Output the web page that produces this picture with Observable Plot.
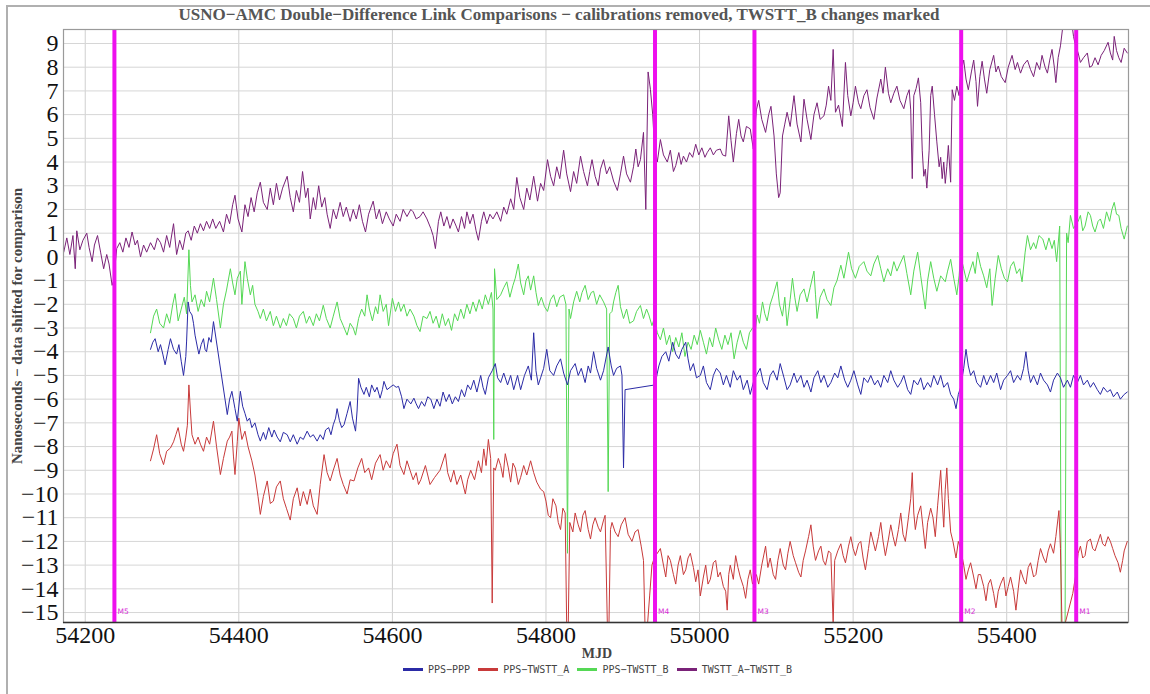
<!DOCTYPE html>
<html>
<head>
<meta charset="utf-8">
<script src="https://cdn.jsdelivr.net/npm/d3@7"></script>
<script src="https://cdn.jsdelivr.net/npm/@observablehq/plot@0.6"></script>
<style>
  html, body { margin: 0; padding: 0; background: #fff; }
  #wrap { position: relative; width: 1150px; height: 694px; overflow: hidden; }
  #outer { position: absolute; left: 6px; top: 5px; width: 1200px; height: 800px; border-left: 2px solid #b0b0b0; border-top: 2px solid #b0b0b0; }
  #title { position: absolute; left: 559px; top: 5px; transform: translateX(-50%); white-space: nowrap;
           font: bold 17px "Liberation Serif", serif; color: #555; }
  #ylab { position: absolute; left: 17px; top: 326px; transform: translate(-50%, -50%) rotate(-90deg); white-space: nowrap;
          font: bold 15px "Liberation Serif", serif; color: #444; }
  #xlab { position: absolute; left: 597px; top: 646px; transform: translateX(-50%);
          font: bold 14px "Liberation Serif", serif; color: #444; }
  #legend { position: absolute; left: 403px; top: 664px; display: flex; align-items: center; white-space: nowrap;
            font: 10px "DejaVu Sans Mono", monospace; color: #444; }
  #legend .item { display: flex; align-items: center; margin-right: 8px; }
  #legend .sw { width: 20px; height: 2.5px; margin-right: 5px; }
  #chart { position: absolute; left: 0; top: 0; }
</style>
</head>
<body>
<div id="wrap">
  <div id="outer"></div>
  <div id="chart"></div>
  <div id="title">USNO−AMC Double−Difference Link Comparisons − calibrations removed, TWSTT_B changes marked</div>
  <div id="ylab">Nanoseconds − data shifted for comparison</div>
  <div id="xlab">MJD</div>
  <div id="legend"></div>
</div>
<script>
// ---- Data (MJD, nanoseconds) ----
const seriesNames = ["PPS−PPP", "PPS−TWSTT_A", "PPS−TWSTT_B", "TWSTT_A−TWSTT_B"];
const seriesColors = ["#2b2ba6", "#c83a3a", "#55d855", "#7a2278"];

const xTicks = [54200, 54400, 54600, 54800, 55000, 55200, 55400];
const yTicks = [-15,-14,-13,-12,-11,-10,-9,-8,-7,-6,-5,-4,-3,-2,-1,0,1,2,3,4,5,6,7,8,9];

const markerMjd = [54238, 54942, 55071.5, 55340.7, 55490.5];
const markerLabels = ["M5", "M4", "M3", "M2", "M1"];

const twsttAB = [
[54172,0.2],[54176,0.8],[54180,0.1],[54184,0.9],[54187,-0.5],[54189,1.1],[54193,0.3],[54197,0.7],[54202,1.0],[54205,0.4],[54209,-0.2],[54212,0.5],[54216,0.9],[54220,0.2],[54224,-0.5],[54228,0.1],[54231,-0.3],[54235,-1.2],[54237,-1.0],
[54241,0.35],[54245,0.6],[54249,0.2],[54253,0.8],[54257,0.4],[54261,1.05],[54265,0.5],[54268,0.7],[54272,0.0],[54276,0.5],[54280,0.2],[54285,0.6],[54290,0.3],[54294,0.8],[54298,0.6],[54302,0.2],[54306,0.9],[54310,0.4],[54315,1.4],[54319,0.1],[54323,0.7],[54327,0.3],[54331,1.0],[54334,1.1],[54338,0.7],[54342,1.3],[54346,1.0],[54350,1.4],[54354,1.1],[54358,1.5],[54362,1.2],[54366,1.6],[54370,1.2],[54375,1.5],[54380,1.05],[54384,1.8],[54388,1.4],[54392,2.2],[54395,2.6],[54399,1.6],[54404,1.05],[54408,2.2],[54412,1.7],[54416,2.5],[54420,1.9],[54424,2.7],[54428,3.15],[54432,2.3],[54437,2.0],[54441,2.9],[54445,2.2],[54449,3.1],[54453,2.4],[54457,2.9],[54463,3.4],[54467,2.5],[54471,1.9],[54475,2.8],[54479,2.3],[54483,3.6],[54487,2.5],[54490,2.9],[54493,1.6],[54497,2.5],[54500,2.0],[54504,3.0],[54508,2.1],[54512,2.5],[54515,1.8],[54519,1.2],[54523,2.0],[54527,1.6],[54532,2.3],[54536,1.7],[54540,2.1],[54545,1.5],[54549,2.0],[54553,1.6],[54557,2.2],[54561,1.5],[54565,1.05],[54569,1.8],[54575,2.35],[54579,1.6],[54583,2.0],[54587,1.4],[54592,1.9],[54596,1.6],[54601,1.3],[54605,1.8],[54610,1.5],[54614,2.0],[54619,1.7],[54624,2.0],[54627,1.9],[54631,1.6],[54636,1.7],[54640,1.9],[54645,1.6],[54650,1.2],[54653,0.9],[54656,0.35],[54660,1.5],[54663,1.9],[54667,1.3],[54671,1.7],[54675,1.2],[54679,1.6],[54683,1.3],[54686,1.05],[54690,1.7],[54694,1.2],[54697,1.9],[54701,1.4],[54705,1.8],[54709,1.1],[54712,0.7],[54716,1.5],[54719,1.9],[54723,1.4],[54727,1.8],[54731,1.6],[54736,1.9],[54741,1.5],[54745,2.1],[54749,1.8],[54754,2.45],[54758,2.0],[54762,3.35],[54766,2.5],[54771,2.0],[54775,2.9],[54779,2.4],[54784,3.4],[54789,2.35],[54793,3.1],[54797,2.8],[54802,4.1],[54806,3.4],[54810,3.0],[54814,3.8],[54818,3.3],[54823,4.5],[54827,3.5],[54832,2.75],[54836,3.6],[54840,3.1],[54845,4.25],[54849,3.6],[54854,3.0],[54857,3.6],[54860,4.1],[54864,3.4],[54868,3.0],[54871,3.7],[54875,4.1],[54879,3.5],[54883,3.8],[54888,3.2],[54893,2.8],[54897,3.5],[54901,4.25],[54905,3.5],[54910,3.15],[54914,3.8],[54917,4.55],[54920,3.8],[54923,4.1],[54927,5.25],[54930,2.0],[54933,7.8],[54936,7.07],[54939,6.0],[54941,4.85],
[54945,4.0],[54949,4.95],[54953,4.3],[54958,4.0],[54962,4.5],[54966,3.6],[54969,3.85],[54973,4.4],[54976,3.9],[54979,4.25],[54983,4.0],[54987,4.4],[54991,4.2],[54995,4.75],[54999,4.3],[55003,4.6],[55007,4.2],[55010,4.4],[55014,4.6],[55018,4.3],[55022,4.5],[55027,4.55],[55030,4.3],[55034,4.25],[55038,5.95],[55041,4.9],[55044,4.0],[55048,5.2],[55051,5.8],[55054,5.1],[55057,4.85],[55061,5.5],[55066,5.4],[55070,4.55],
[55074,6.2],[55077,6.6],[55081,5.8],[55086,5.25],[55090,6.0],[55093,6.35],[55097,5.1],[55100,3.5],[55103,2.5],[55105,2.7],[55108,5.1],[55111,5.6],[55114,6.1],[55118,5.5],[55123,6.8],[55127,5.6],[55132,4.85],[55136,6.65],[55140,5.8],[55145,4.95],[55149,6.0],[55153,6.5],[55157,5.8],[55162,5.95],[55165,6.4],[55168,7.2],[55171,6.6],[55174,8.75],[55177,6.1],[55181,6.4],[55186,5.5],[55190,8.2],[55193,6.8],[55197,5.95],[55200,6.5],[55203,7.2],[55207,6.5],[55210,6.25],[55214,6.8],[55218,7.05],[55222,6.3],[55227,5.8],[55231,6.7],[55236,7.5],[55239,6.9],[55242,8.0],[55246,6.9],[55249,6.5],[55253,6.9],[55257,7.2],[55261,6.6],[55266,6.25],[55270,6.8],[55273,7.05],[55275,6.2],[55277,3.3],[55279,6.8],[55282,7.1],[55285,7.55],[55288,6.5],[55290,4.5],[55292,3.4],[55294,3.7],[55296,2.9],[55299,4.5],[55301,6.8],[55303,7.2],[55306,6.0],[55309,4.85],[55312,3.8],[55314,4.2],[55316,3.3],[55318,4.0],[55320,3.1],[55322,3.8],[55324,4.7],[55327,3.15],[55329,7.05],[55332,6.6],[55335,7.2],[55338,6.8],[55340,7.75],
[55344,8.3],[55347,7.5],[55350,7.05],[55354,7.8],[55357,8.3],[55360,7.4],[55362,6.35],[55365,7.6],[55368,8.25],[55371,7.5],[55374,6.9],[55378,7.9],[55383,8.5],[55386,7.8],[55389,8.05],[55393,7.6],[55398,7.35],[55402,8.0],[55407,8.5],[55411,7.9],[55414,8.2],[55418,7.75],[55422,8.1],[55427,8.3],[55431,7.9],[55435,7.6],[55439,8.2],[55443,7.9],[55446,8.5],[55450,8.0],[55453,7.75],[55456,8.3],[55459,8.75],[55462,8.0],[55464,7.35],[55467,8.4],[55470,8.9],[55473,9.7],[55477,9.9],[55481,9.9],[55485,9.8],[55487,9.3],[55489,9.0],
[55493,8.6],[55496,8.2],[55500,8.4],[55505,8.6],[55508,8.0],[55511,8.05],[55515,8.4],[55519,8.1],[55523,8.5],[55527,8.7],[55532,9.05],[55535,8.6],[55538,8.3],[55540,9.3],[55543,8.7],[55546,8.4],[55549,8.2],[55553,8.8],[55557,8.6]
];

const ppsTwsttB = [
[54285,-3.2],[54289,-2.5],[54293,-2.2],[54297,-2.8],[54302,-3.0],[54306,-2.4],[54310,-2.8],[54314,-2.0],[54317,-1.55],[54321,-2.7],[54325,-2.2],[54329,-1.7],[54332,-2.4],[54335,0.3],[54337,-1.2],[54339,-1.9],[54343,-1.6],[54347,-2.3],[54351,-1.8],[54355,-2.1],[54358,-1.45],[54362,-1.9],[54367,-0.9],[54371,-1.8],[54376,-3.0],[54380,-2.0],[54384,-1.4],[54389,-0.5],[54392,-1.1],[54395,-1.6],[54398,-0.9],[54402,-0.6],[54404,-2.0],[54408,-0.2],[54411,-0.9],[54415,-1.6],[54418,-1.2],[54421,-2.0],[54425,-2.3],[54428,-2.6],[54432,-2.2],[54436,-2.7],[54441,-2.3],[54445,-2.9],[54449,-2.5],[54454,-3.0],[54458,-2.6],[54462,-2.9],[54466,-2.4],[54471,-2.6],[54475,-3.0],[54479,-2.5],[54484,-2.3],[54488,-2.8],[54492,-2.5],[54497,-2.9],[54501,-2.4],[54505,-2.7],[54510,-2.04],[54514,-2.6],[54519,-3.0],[54523,-2.5],[54528,-1.9],[54532,-2.6],[54536,-2.9],[54541,-3.3],[54545,-2.8],[54549,-3.0],[54552,-3.3],[54556,-2.6],[54560,-2.2],[54564,-2.5],[54567,-1.6],[54570,-2.2],[54574,-2.7],[54578,-2.1],[54581,-2.4],[54584,-1.6],[54588,-2.3],[54592,-2.0],[54595,-2.9],[54600,-1.75],[54604,-2.3],[54608,-1.9],[54611,-2.3],[54615,-2.0],[54619,-2.5],[54623,-2.2],[54628,-2.5],[54632,-2.9],[54636,-3.15],[54640,-2.5],[54645,-2.6],[54649,-2.3],[54653,-2.8],[54657,-2.5],[54661,-3.0],[54665,-2.4],[54669,-2.9],[54673,-2.6],[54677,-3.1],[54681,-2.4],[54685,-2.7],[54689,-2.2],[54693,-2.6],[54697,-2.0],[54701,-2.4],[54705,-1.9],[54709,-2.3],[54713,-1.8],[54717,-2.2],[54721,-1.6],[54725,-2.0],[54729,-1.5],[54731,-2.2],[54732,-7.7],[54733,-0.5],[54736,-1.8],[54741,-1.6],[54745,-1.3],[54749,-1.05],[54753,-1.7],[54757,-1.2],[54760,-0.9],[54764,-0.3],[54767,-1.1],[54771,-1.6],[54774,-1.0],[54777,-0.8],[54780,-1.4],[54784,-0.8],[54787,-1.5],[54790,-2.05],[54794,-1.7],[54798,-2.1],[54802,-2.3],[54806,-1.8],[54810,-1.6],[54814,-2.1],[54818,-1.7],[54823,-1.6],[54826,-2.0],[54828,-12.5],[54830,-2.2],[54832,-2.6],[54836,-1.9],[54840,-1.45],[54844,-1.9],[54847,-1.5],[54851,-1.2],[54855,-1.8],[54859,-1.5],[54862,-1.45],[54866,-2.0],[54870,-1.6],[54875,-1.9],[54879,-2.2],[54881,-9.9],[54883,-2.4],[54886,-2.3],[54888,-1.9],[54891,-1.5],[54894,-1.2],[54897,-2.1],[54901,-2.6],[54905,-2.2],[54909,-2.8],[54914,-2.7],[54918,-2.3],[54923,-2.05],[54927,-2.6],[54931,-2.2],[54934,-2.45],[54938,-2.9],[54941,-2.6],
[54945,-3.2],[54949,-3.5],[54953,-3.0],[54957,-3.7],[54961,-3.3],[54965,-4.0],[54969,-3.4],[54973,-3.8],[54977,-3.2],[54981,-4.2],[54985,-3.6],[54989,-3.9],[54993,-3.3],[54997,-3.7],[55001,-3.1],[55005,-3.6],[55009,-4.1],[55013,-3.4],[55017,-3.8],[55021,-3.0],[55025,-3.5],[55029,-3.9],[55033,-3.3],[55037,-3.7],[55041,-3.2],[55045,-4.3],[55049,-3.6],[55053,-3.1],[55057,-3.6],[55061,-3.9],[55065,-3.2],[55069,-3.0],
[55073,-3.0],[55075,-2.45],[55078,-2.8],[55082,-1.9],[55085,-2.4],[55088,-2.7],[55092,-2.0],[55096,-1.6],[55101,-1.05],[55104,-2.0],[55108,-2.5],[55111,-1.7],[55114,-2.9],[55118,-1.8],[55121,-0.9],[55124,-1.7],[55127,-2.3],[55131,-1.6],[55136,-1.35],[55140,-1.9],[55144,-1.3],[55149,-0.6],[55151,-1.6],[55153,-2.6],[55157,-1.7],[55162,-1.35],[55166,-1.8],[55171,-2.05],[55175,-1.3],[55179,-1.0],[55184,-0.35],[55188,-0.9],[55194,0.2],[55198,-0.5],[55203,-0.9],[55208,-0.4],[55214,-0.2],[55218,-0.6],[55223,-0.8],[55227,-0.3],[55232,0.06],[55236,-0.5],[55240,-1.05],[55245,-0.5],[55249,-0.8],[55253,-0.2],[55257,-0.6],[55261,-0.3],[55266,0.06],[55270,-0.7],[55275,-1.6],[55279,-0.6],[55284,0.2],[55288,-0.8],[55294,-2.2],[55297,-1.0],[55301,-0.2],[55305,-0.9],[55309,-1.45],[55314,-0.8],[55320,-1.05],[55323,-0.6],[55327,-0.1],[55331,-0.9],[55335,-1.6],[55338,-0.8],[55340,0.06],
[55344,-0.5],[55348,-1.05],[55352,-0.6],[55356,-0.2],[55359,-0.7],[55362,0.2],[55366,-0.4],[55370,-0.8],[55374,-1.3],[55378,-0.5],[55381,-2.05],[55385,-0.9],[55389,0.06],[55393,-0.5],[55397,-0.9],[55401,-1.05],[55405,-0.4],[55409,-0.2],[55413,-0.7],[55417,-0.5],[55420,-1.05],[55424,0.2],[55427,0.9],[55431,0.3],[55435,0.6],[55438,0.35],[55442,0.9],[55447,0.75],[55451,0.3],[55455,0.8],[55459,0.35],[55462,0.7],[55465,-0.2],[55469,1.3],[55471,-15.6],[55476,-15.6],[55478,1.0],[55480,0.6],[55483,1.75],[55487,1.2],
[55493,1.5],[55496,1.75],[55499,1.1],[55502,1.3],[55506,1.9],[55509,1.75],[55512,1.3],[55515,1.05],[55519,1.5],[55522,1.6],[55526,1.2],[55530,1.9],[55534,1.5],[55537,2.0],[55540,2.3],[55543,1.8],[55546,1.75],[55549,1.2],[55553,0.75],[55557,1.3]
];

const ppsPpp = [
[54285,-3.9],[54288,-3.6],[54291,-3.45],[54295,-4.0],[54298,-3.7],[54301,-4.1],[54304,-4.55],[54308,-3.9],[54311,-3.45],[54315,-3.9],[54319,-4.1],[54322,-3.7],[54325,-4.4],[54328,-5.0],[54331,-4.2],[54332,-3.55],[54334,-1.9],[54336,-2.3],[54339,-2.45],[54341,-2.8],[54343,-3.3],[54346,-3.8],[54348,-4.1],[54351,-3.7],[54354,-3.45],[54356,-3.9],[54358,-4.0],[54361,-3.4],[54364,-3.6],[54367,-2.73],
[54385,-6.65],[54388,-6.0],[54391,-5.67],[54395,-6.4],[54398,-6.93],[54402,-5.67],[54405,-6.3],[54408,-6.6],[54411,-6.93],[54414,-6.8],[54417,-7.2],[54421,-7.0],[54425,-7.5],[54428,-7.77],[54432,-7.4],[54435,-7.7],[54439,-7.2],[54443,-7.6],[54446,-7.3],[54450,-7.6],[54454,-7.8],[54458,-7.4],[54463,-7.5],[54467,-7.8],[54471,-7.5],[54476,-7.9],[54480,-7.6],[54484,-7.7],[54489,-7.35],[54493,-7.6],[54497,-7.5],[54502,-7.77],[54506,-7.5],[54510,-7.7],[54513,-7.3],[54517,-7.2],[54520,-7.5],[54523,-7.08],[54526,-6.8],[54528,-6.4],[54531,-6.9],[54534,-7.2],[54537,-7.08],[54541,-6.6],[54545,-6.1],[54548,-6.8],[54552,-7.35],[54554,-6.5],[54556,-5.12],[54559,-5.5],[54563,-5.8],[54566,-5.5],[54570,-5.9],[54573,-5.4],[54577,-5.7],[54580,-5.5],[54584,-5.96],[54587,-5.6],[54589,-5.25],[54593,-5.6],[54597,-5.5],[54601,-5.4],[54605,-5.5],[54608,-5.46],[54612,-5.9],[54615,-6.4],[54619,-6.0],[54624,-6.2],[54628,-5.96],[54631,-6.2],[54634,-6.4],[54638,-6.1],[54642,-6.3],[54646,-5.9],[54650,-6.0],[54654,-6.4],[54658,-6.0],[54662,-6.3],[54666,-5.7],[54670,-6.1],[54674,-5.8],[54678,-6.2],[54682,-5.9],[54686,-6.1],[54690,-5.6],[54694,-5.9],[54698,-5.4],[54702,-5.6],[54706,-5.2],[54710,-5.7],[54715,-5.0],[54718,-5.5],[54721,-5.8],[54725,-5.1],[54730,-4.8],[54734,-4.5],[54737,-5.1],[54741,-5.3],[54745,-4.9],[54750,-5.4],[54754,-5.0],[54758,-5.6],[54763,-5.0],[54767,-5.6],[54772,-5.0],[54777,-4.6],[54781,-5.2],[54784,-3.2],[54787,-4.8],[54790,-5.4],[54793,-5.1],[54797,-4.7],[54801,-3.9],[54805,-4.8],[54810,-5.0],[54814,-4.6],[54819,-4.3],[54823,-4.9],[54828,-5.4],[54832,-4.8],[54838,-4.5],[54842,-5.0],[54846,-4.7],[54851,-5.3],[54855,-4.6],[54858,-4.9],[54862,-4.0],[54866,-4.7],[54871,-5.2],[54875,-4.8],[54881,-3.8],[54885,-4.6],[54888,-5.0],[54892,-4.7],[54897,-4.6],[54899,-5.0],[54901,-8.9],[54903,-5.6],[54942,-5.4],
[54945,-4.9],[54947,-4.6],[54951,-4.2],[54956,-4.0],[54960,-4.4],[54965,-3.6],[54969,-4.1],[54973,-4.3],[54977,-3.9],[54982,-3.6],[54985,-4.3],[54988,-4.8],[54992,-4.5],[54996,-5.1],[55001,-5.0],[55005,-4.6],[55009,-5.3],[55014,-5.6],[55018,-5.0],[55022,-4.7],[55027,-4.9],[55031,-5.4],[55035,-5.0],[55040,-5.5],[55044,-4.8],[55049,-5.2],[55053,-5.0],[55057,-5.6],[55062,-5.2],[55066,-5.8],[55070,-5.3],
[55074,-5.0],[55079,-4.7],[55083,-5.3],[55088,-5.6],[55092,-5.0],[55096,-4.8],[55101,-5.2],[55105,-4.5],[55110,-5.1],[55114,-5.6],[55118,-5.4],[55123,-4.9],[55127,-5.3],[55132,-5.0],[55136,-5.5],[55140,-5.2],[55145,-5.7],[55149,-5.1],[55154,-4.8],[55158,-5.3],[55162,-5.0],[55167,-5.5],[55171,-5.3],[55176,-4.9],[55180,-5.1],[55184,-4.6],[55189,-5.2],[55193,-5.5],[55197,-5.2],[55201,-4.8],[55206,-5.4],[55210,-5.8],[55214,-5.1],[55219,-5.3],[55223,-5.0],[55228,-5.4],[55232,-5.2],[55236,-5.5],[55240,-5.0],[55245,-5.3],[55249,-4.8],[55253,-5.2],[55258,-5.5],[55262,-5.3],[55266,-5.0],[55271,-5.6],[55275,-5.8],[55279,-5.2],[55284,-5.4],[55288,-5.1],[55292,-5.6],[55297,-5.3],[55301,-5.5],[55305,-5.0],[55310,-5.4],[55314,-5.0],[55318,-5.5],[55323,-5.3],[55327,-5.8],[55331,-6.0],[55334,-6.4],[55337,-5.8],[55340,-5.5],
[55344,-4.7],[55347,-3.9],[55350,-4.6],[55353,-5.0],[55357,-4.8],[55361,-5.3],[55366,-5.5],[55370,-5.0],[55374,-5.4],[55379,-5.0],[55383,-5.3],[55387,-4.9],[55392,-5.6],[55396,-5.2],[55401,-5.0],[55405,-4.8],[55409,-5.3],[55414,-5.0],[55418,-5.2],[55422,-4.7],[55425,-4.0],[55428,-4.8],[55431,-5.3],[55435,-5.0],[55440,-5.4],[55444,-4.9],[55448,-5.2],[55453,-5.4],[55457,-5.7],[55461,-5.2],[55466,-4.9],[55470,-5.1],[55474,-5.5],[55479,-5.2],[55483,-5.5],[55487,-5.0],
[55492,-5.3],[55496,-5.0],[55500,-5.4],[55505,-5.2],[55509,-5.5],[55513,-5.3],[55518,-5.6],[55522,-5.8],[55526,-5.5],[55531,-5.7],[55535,-5.6],[55539,-5.9],[55544,-5.7],[55548,-6.0],[55553,-5.8],[55557,-5.7]
];

const ppsTwsttA = [
[54285,-8.6],[54289,-8.1],[54293,-7.5],[54297,-8.3],[54302,-8.76],[54306,-8.2],[54311,-8.06],[54315,-7.8],[54318,-7.5],[54321,-7.2],[54325,-7.9],[54328,-8.2],[54331,-7.6],[54333,-7.1],[54335,-5.4],[54337,-6.5],[54339,-7.5],[54343,-7.9],[54347,-7.6],[54350,-7.9],[54354,-8.2],[54358,-7.6],[54362,-7.9],[54367,-6.93],[54371,-8.0],[54376,-9.18],[54380,-8.5],[54385,-7.77],[54388,-7.6],[54391,-7.35],[54393,-8.4],[54395,-9.18],[54398,-7.8],[54400,-6.8],[54404,-7.7],[54408,-7.35],[54412,-8.0],[54417,-8.6],[54421,-9.2],[54425,-10.1],[54428,-10.86],[54432,-10.1],[54437,-9.45],[54441,-10.4],[54445,-10.3],[54449,-9.7],[54454,-9.45],[54458,-10.2],[54462,-10.6],[54467,-11.1],[54471,-10.2],[54476,-9.74],[54480,-10.5],[54484,-9.9],[54489,-10.44],[54493,-9.8],[54497,-10.5],[54502,-10.86],[54506,-9.6],[54511,-8.34],[54515,-9.1],[54519,-9.45],[54523,-9.0],[54528,-8.5],[54532,-9.2],[54536,-9.6],[54541,-10.0],[54545,-9.4],[54550,-9.45],[54555,-8.9],[54560,-8.5],[54564,-9.1],[54569,-8.9],[54573,-9.4],[54578,-8.7],[54584,-8.34],[54588,-9.0],[54592,-8.6],[54597,-8.9],[54601,-8.3],[54606,-7.9],[54610,-8.8],[54615,-9.18],[54619,-8.6],[54623,-9.0],[54627,-9.4],[54631,-9.1],[54634,-9.6],[54637,-9.4],[54643,-8.8],[54649,-9.6],[54655,-9.3],[54662,-9.0],[54669,-8.3],[54672,-9.1],[54676,-9.5],[54680,-9.0],[54684,-9.6],[54689,-9.2],[54695,-10.0],[54698,-9.4],[54702,-9.0],[54707,-9.4],[54712,-8.6],[54716,-9.1],[54719,-8.1],[54722,-8.8],[54725,-7.7],[54728,-8.5],[54730,-14.6],[54732,-8.9],[54734,-9.0],[54738,-8.5],[54741,-8.8],[54744,-9.3],[54747,-8.3],[54751,-8.9],[54754,-9.5],[54757,-8.7],[54760,-8.9],[54764,-9.6],[54767,-9.3],[54771,-8.8],[54775,-9.2],[54780,-8.6],[54784,-9.1],[54788,-9.5],[54793,-9.8],[54797,-9.9],[54800,-10.3],[54803,-10.9],[54806,-11.0],[54809,-10.2],[54813,-10.5],[54816,-11.2],[54819,-11.5],[54822,-10.6],[54825,-10.8],[54827,-15.6],[54829,-15.6],[54831,-11.2],[54835,-11.6],[54838,-10.8],[54842,-11.3],[54845,-11.6],[54848,-10.9],[54851,-10.7],[54855,-11.5],[54858,-11.9],[54861,-11.3],[54864,-11.0],[54868,-11.4],[54871,-11.6],[54875,-11.1],[54877,-10.9],[54880,-15.6],[54882,-15.6],[54884,-11.5],[54886,-11.2],[54890,-11.6],[54894,-11.8],[54898,-11.3],[54903,-11.0],[54907,-11.7],[54912,-12.0],[54916,-11.6],[54920,-11.5],[54924,-12.2],[54927,-12.8],[54929,-15.6],[54932,-15.6],[54935,-14.3],[54938,-13.0],[54941,-12.7],
[54945,-12.5],[54949,-12.3],[54953,-13.0],[54956,-13.5],[54959,-12.6],[54962,-12.8],[54966,-13.4],[54969,-13.8],[54972,-13.0],[54975,-12.6],[54979,-13.4],[54982,-13.2],[54985,-12.7],[54988,-12.5],[54992,-13.1],[54995,-13.7],[54998,-13.2],[55001,-14.3],[55005,-13.5],[55008,-13.0],[55011,-13.8],[55014,-13.6],[55018,-12.9],[55021,-12.8],[55024,-13.5],[55027,-13.3],[55031,-13.9],[55034,-14.1],[55036,-14.9],[55038,-13.4],[55040,-13.0],[55044,-13.6],[55047,-12.6],[55050,-13.1],[55053,-13.5],[55057,-13.9],[55060,-14.4],[55063,-13.6],[55066,-13.2],[55069,-13.8],
[55074,-13.4],[55077,-13.8],[55081,-13.0],[55086,-12.2],[55089,-13.1],[55092,-12.7],[55096,-13.4],[55099,-13.6],[55102,-12.8],[55105,-12.3],[55109,-13.0],[55112,-13.2],[55115,-12.5],[55118,-12.0],[55122,-12.6],[55125,-12.9],[55129,-13.3],[55132,-13.5],[55135,-12.8],[55138,-12.4],[55142,-11.8],[55145,-11.3],[55148,-12.2],[55151,-12.8],[55155,-12.4],[55158,-12.2],[55161,-12.8],[55164,-13.0],[55168,-12.4],[55171,-12.5],[55174,-15.5],[55176,-12.8],[55180,-12.4],[55184,-12.1],[55187,-12.6],[55190,-12.9],[55194,-12.2],[55197,-11.8],[55200,-12.3],[55203,-12.6],[55207,-12.1],[55210,-12.0],[55213,-12.7],[55216,-13.2],[55220,-12.3],[55223,-11.6],[55226,-12.0],[55229,-12.4],[55233,-11.8],[55236,-11.2],[55239,-12.0],[55242,-12.6],[55246,-11.9],[55249,-11.3],[55252,-11.8],[55255,-12.2],[55259,-11.5],[55262,-10.8],[55265,-11.7],[55268,-12.0],[55272,-11.0],[55275,-10.2],[55277,-9.1],[55279,-10.8],[55281,-11.5],[55284,-10.9],[55288,-10.5],[55291,-11.4],[55294,-12.3],[55297,-11.2],[55301,-10.6],[55304,-11.0],[55307,-11.8],[55310,-10.5],[55314,-9.0],[55316,-10.3],[55318,-11.4],[55320,-9.8],[55322,-8.9],[55324,-10.2],[55327,-11.6],[55330,-12.0],[55334,-12.7],[55337,-12.0],[55340,-12.3],
[55344,-13.0],[55347,-13.6],[55350,-13.2],[55353,-12.9],[55357,-13.5],[55360,-14.0],[55363,-13.4],[55366,-13.4],[55370,-13.9],[55373,-14.5],[55376,-13.8],[55379,-13.6],[55383,-14.2],[55386,-14.8],[55389,-14.1],[55392,-13.8],[55396,-13.5],[55399,-14.3],[55402,-13.9],[55405,-13.5],[55409,-14.1],[55412,-14.9],[55415,-14.0],[55418,-13.2],[55422,-13.6],[55425,-13.8],[55428,-13.1],[55431,-12.9],[55435,-13.5],[55438,-13.4],[55441,-12.8],[55444,-12.3],[55448,-12.7],[55451,-12.9],[55454,-12.4],[55457,-12.1],[55461,-12.5],[55464,-11.8],[55468,-10.7],[55470,-12.3],[55472,-15.6],[55475,-15.6],[55486,-14.2],[55490,-13.4],
[55493,-12.5],[55496,-12.2],[55499,-12.7],[55502,-12.6],[55505,-12.0],[55509,-11.9],[55512,-12.3],[55515,-12.4],[55519,-12.0],[55522,-11.7],[55525,-12.1],[55528,-12.2],[55532,-11.8],[55535,-12.0],[55538,-12.3],[55541,-12.6],[55545,-12.9],[55548,-13.3],[55551,-12.8],[55553,-12.4],[55557,-12.0]
];

const seriesData = [ppsPpp, ppsTwsttA, ppsTwsttB, twsttAB];

// ---- Chart ----
const yMin = -15.42, yMax = 9.59;
const markers = markerMjd.map((m, i) => ({mjd: m, label: markerLabels[i]}));
const drawOrder = [3, 2, 1, 0];

const chart = Plot.plot({
  width: 1150,
  height: 660,
  marginTop: 29,
  marginBottom: 38,
  marginLeft: 63,
  marginRight: 22,
  x: {domain: [54171.7, 55558.6]},
  y: {domain: [yMin, yMax]},
  style: {background: "transparent"},
  marks: [
    Plot.gridX(xTicks, {stroke: "#cfcfcf", strokeOpacity: 1, strokeWidth: 1}),
    Plot.gridY(yTicks, {stroke: "#d6d6d6", strokeOpacity: 1, strokeWidth: 1}),
    ...drawOrder.map(i => Plot.line(seriesData[i], {
      x: d => d[0], y: d => d[1], stroke: seriesColors[i], strokeWidth: 1, clip: true
    })),
    Plot.ruleX(markers, {x: "mjd", stroke: "#ee10ee", strokeWidth: 4}),
    Plot.text(markers, {x: "mjd", y: -14.98, text: "label", dx: 3, textAnchor: "start",
      fill: "#d830d8", fontSize: 7.5, fontFamily: "DejaVu Sans, sans-serif"}),
    Plot.frame({stroke: "#9a9a9a", strokeWidth: 1.2}),
    Plot.ruleY([yMin], {stroke: "#333", strokeWidth: 1.3}),
    Plot.axisX(xTicks, {tickSize: 0, tickPadding: 3, fontSize: 24, fontFamily: "Liberation Serif, serif",
      tickFormat: d => String(d), label: null, color: "#111"}),
    Plot.axisY(yTicks, {tickSize: 0, tickPadding: 5, fontSize: 24, fontFamily: "Liberation Serif, serif",
      label: null, color: "#111"})
  ]
});
document.getElementById("chart").appendChild(chart);

// ---- Legend ----
const legend = document.getElementById("legend");
seriesNames.forEach((n, i) => {
  const item = document.createElement("div");
  item.className = "item";
  const sw = document.createElement("div");
  sw.className = "sw";
  sw.style.background = seriesColors[i];
  const t = document.createElement("span");
  t.textContent = n;
  item.appendChild(sw); item.appendChild(t);
  legend.appendChild(item);
});
</script>
</body>
</html>
